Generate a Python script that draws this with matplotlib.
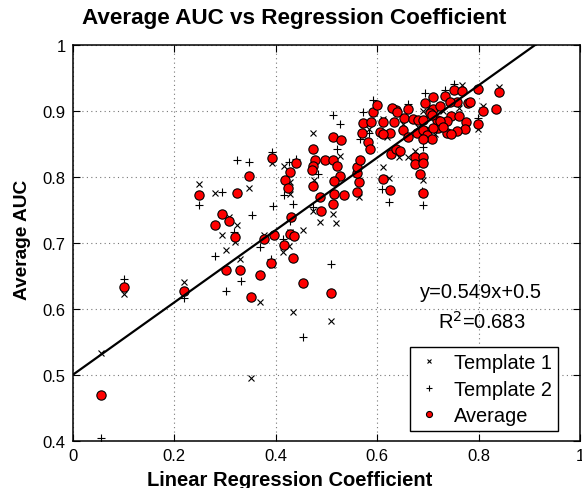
import matplotlib
matplotlib.use("Agg")
import matplotlib.pyplot as plt
import numpy as np

plt.rcParams['font.family'] = ['Liberation Sans', 'DejaVu Sans']

# per-dataset average AUC against linear regression coefficient
avg_x = [0.057, 0.101, 0.220, 0.249, 0.281, 0.294, 0.309, 0.319, 0.302, 0.330,
         0.324, 0.347, 0.352, 0.369, 0.376, 0.391, 0.393, 0.397, 0.416, 0.418,
         0.424, 0.428, 0.428, 0.430, 0.435, 0.437, 0.440, 0.454, 0.509, 0.474,
         0.477, 0.474, 0.474, 0.487, 0.489, 0.498, 0.513, 0.513, 0.528, 0.520,
         0.527, 0.515, 0.515, 0.512, 0.534, 0.561, 0.564, 0.560, 0.561, 0.565,
         0.569, 0.572, 0.588, 0.582, 0.586, 0.592, 0.599, 0.611, 0.625, 0.612,
         0.605, 0.626, 0.637, 0.645, 0.632, 0.637, 0.628, 0.625, 0.612, 0.661,
         0.653, 0.671, 0.681, 0.689, 0.694, 0.651, 0.660, 0.679, 0.690, 0.697,
         0.707, 0.674, 0.689, 0.674, 0.689, 0.685, 0.690, 0.693, 0.710, 0.733,
         0.751, 0.766, 0.798, 0.779, 0.756, 0.743, 0.710, 0.704, 0.717, 0.720,
         0.710, 0.746, 0.760, 0.775, 0.773, 0.757, 0.737, 0.809, 0.834, 0.840,
         0.798, 0.782, 0.723, 0.737, 0.723, 0.730, 0.746, 0.690, 0.707, 0.639,
         0.472]
avg_y = [0.469, 0.634, 0.628, 0.773, 0.727, 0.744, 0.733, 0.709, 0.659, 0.659,
         0.776, 0.802, 0.618, 0.652, 0.706, 0.670, 0.829, 0.712, 0.697, 0.795,
         0.783, 0.808, 0.714, 0.740, 0.677, 0.711, 0.821, 0.639, 0.624, 0.843,
         0.825, 0.817, 0.787, 0.769, 0.749, 0.825, 0.826, 0.861, 0.856, 0.817,
         0.802, 0.794, 0.774, 0.759, 0.772, 0.778, 0.792, 0.806, 0.815, 0.825,
         0.866, 0.882, 0.883, 0.853, 0.842, 0.899, 0.909, 0.797, 0.780, 0.883,
         0.868, 0.835, 0.843, 0.840, 0.883, 0.902, 0.904, 0.867, 0.865, 0.903,
         0.890, 0.888, 0.886, 0.886, 0.870, 0.871, 0.861, 0.867, 0.871, 0.863,
         0.857, 0.830, 0.831, 0.820, 0.821, 0.805, 0.776, 0.912, 0.921, 0.923,
         0.932, 0.930, 0.933, 0.912, 0.913, 0.913, 0.903, 0.897, 0.886, 0.874,
         0.874, 0.893, 0.893, 0.884, 0.872, 0.869, 0.867, 0.900, 0.903, 0.928,
         0.881, 0.913, 0.907, 0.885, 0.885, 0.875, 0.865, 0.858, 0.894, 0.899,
         0.810]

t1_x = [0.057, 0.101, 0.220, 0.249, 0.281, 0.294, 0.302, 0.309, 0.324, 0.319,
        0.330, 0.347, 0.352, 0.369, 0.376, 0.393, 0.393, 0.415, 0.417, 0.427,
        0.428, 0.428, 0.428, 0.435, 0.454, 0.474, 0.476, 0.474, 0.487, 0.509,
        0.512, 0.519, 0.527, 0.558, 0.563, 0.584, 0.611, 0.624, 0.612, 0.643,
        0.661, 0.674, 0.690, 0.690, 0.714, 0.766, 0.840, 0.809, 0.798, 0.700,
        0.730, 0.760, 0.650, 0.620, 0.680]
t1_y = [0.534, 0.623, 0.641, 0.789, 0.775, 0.712, 0.690, 0.739, 0.727, 0.702,
        0.676, 0.783, 0.495, 0.610, 0.712, 0.821, 0.667, 0.687, 0.816, 0.696,
        0.716, 0.793, 0.774, 0.595, 0.720, 0.866, 0.796, 0.748, 0.732, 0.582,
        0.744, 0.730, 0.832, 0.810, 0.769, 0.873, 0.815, 0.799, 0.888, 0.830,
        0.831, 0.840, 0.796, 0.900, 0.865, 0.939, 0.936, 0.908, 0.873, 0.905,
        0.900, 0.905, 0.880, 0.860, 0.875]

t2_x = [0.057, 0.101, 0.220, 0.249, 0.281, 0.295, 0.302, 0.318, 0.324, 0.331,
        0.347, 0.353, 0.369, 0.391, 0.393, 0.395, 0.415, 0.417, 0.427, 0.428,
        0.434, 0.439, 0.454, 0.484, 0.509, 0.513, 0.527, 0.520, 0.566, 0.572,
        0.584, 0.592, 0.609, 0.624, 0.661, 0.690, 0.688, 0.690, 0.693, 0.733,
        0.751, 0.799, 0.473]
t2_y = [0.405, 0.645, 0.616, 0.757, 0.680, 0.778, 0.628, 0.716, 0.825, 0.643,
        0.822, 0.742, 0.694, 0.676, 0.838, 0.756, 0.706, 0.772, 0.823, 0.734,
        0.759, 0.827, 0.558, 0.805, 0.668, 0.894, 0.881, 0.843, 0.858, 0.899,
        0.867, 0.916, 0.782, 0.762, 0.911, 0.758, 0.779, 0.846, 0.927, 0.932,
        0.941, 0.890, 0.754]

# least-squares fit through the averages
slope = 0.549
intercept = 0.5
r_squared = 0.683

xticks = [0, 0.2, 0.4, 0.6, 0.8, 1]
xtick_labels = ['0', '0.2', '0.4', '0.6', '0.8', '1']
yticks = [0.4, 0.5, 0.6, 0.7, 0.8, 0.9, 1]
ytick_labels = ['0.4', '0.5', '0.6', '0.7', '0.8', '0.9', '1']

fig = plt.figure(figsize=(5.82, 4.89), dpi=100)
ax = fig.add_axes([0.1246, 0.0961, 0.8728, 0.8099])

ax.plot(t1_x, t1_y, linestyle='none', marker='x', markersize=4.0,
        markeredgewidth=0.8, color='black', label='Template 1', zorder=3)
ax.plot(t2_x, t2_y, linestyle='none', marker='+', markersize=6,
        markeredgewidth=0.8, color='black', label='Template 2', zorder=3)
ax.plot(avg_x, avg_y, linestyle='none', marker='o', markersize=6.7,
        markerfacecolor='red', markeredgecolor='black', markeredgewidth=0.8,
        label='Average', zorder=4)

fit_x = np.array([0.0, 1.0])
ax.plot(fit_x, slope * fit_x + intercept, color='black', linewidth=1.6, zorder=5)

ax.text(0.805, 0.626, 'y={:.3f}x+{}'.format(slope, intercept), ha='center',
        va='center', fontsize=14.5)
ax.text(0.805, 0.582, 'R$^2$={:.3f}'.format(r_squared), ha='center',
        va='center', fontsize=14.5)

ax.set_xlim(0, 1)
ax.set_ylim(0.4, 1)
ax.set_xticks(xticks)
ax.set_xticklabels(xtick_labels)
ax.set_yticks(yticks)
ax.set_yticklabels(ytick_labels)
ax.tick_params(direction='in', top=True, right=True, length=5, width=0.8,
               labelsize=12, pad=5)
ax.grid(True, linestyle=(0, (1, 3)), color='#777777', linewidth=0.8)
for sp in ax.spines.values():
    sp.set_linewidth(1.1)

leg = ax.legend(loc='lower right', bbox_to_anchor=(0.956, 0.025),
                borderaxespad=0, fontsize=14.4, markerscale=0.65, fancybox=False,
                framealpha=1, edgecolor='black', handletextpad=0.6,
                borderpad=0.3, labelspacing=0.37, handlelength=1.3)
leg.get_frame().set_linewidth(1.0)

fig.text(0.506, 0.963, 'Average AUC vs Regression Coefficient', ha='center',
         va='center', fontsize=16.2, fontweight='bold')
fig.text(0.497, 0.018, 'Linear Regression Coefficient', ha='center',
         va='center', fontsize=14.5, fontweight='bold')
fig.text(0.038, 0.509, 'Average AUC', ha='center', va='center', rotation=90,
         fontsize=13.8, fontweight='bold')

fig.savefig('out.png', dpi=100)
